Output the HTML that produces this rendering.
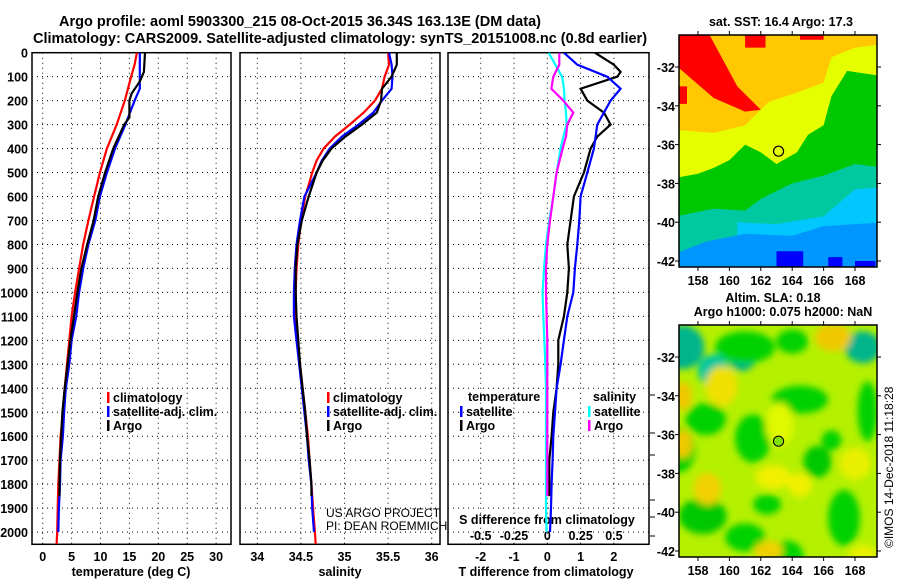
<!DOCTYPE html>
<html><head><meta charset="utf-8">
<style>
html,body{margin:0;padding:0;background:#fff;}
body{width:900px;height:580px;overflow:hidden;font-family:"Liberation Sans",Arial,sans-serif;}
svg text{font-family:"Liberation Sans",Arial,sans-serif;font-weight:bold;fill:#000;}
</style></head>
<body>
<svg id="chart" width="900" height="580" viewBox="0 0 900 580" xmlns="http://www.w3.org/2000/svg">
<defs>
<clipPath id="c1"><rect x="32" y="52.7" width="199" height="491.6"/></clipPath>
<clipPath id="c2"><rect x="240" y="52.7" width="200" height="491.6"/></clipPath>
<clipPath id="c3"><rect x="448" y="52.7" width="201" height="491.6"/></clipPath>
<clipPath id="m1"><rect x="679" y="35" width="198" height="232"/></clipPath>
<clipPath id="m2"><rect x="679" y="325" width="198" height="232"/></clipPath>
<filter id="blur" x="-20%" y="-20%" width="140%" height="140%"><feGaussianBlur stdDeviation="3.5"/></filter>
</defs>
<text x="300" y="26" font-size="14.5" text-anchor="middle">Argo profile: aoml 5903300_215 08-Oct-2015 36.34S 163.13E (DM data)</text>
<text x="340" y="43" font-size="14.5" text-anchor="middle">Climatology: CARS2009. Satellite-adjusted climatology: synTS_20151008.nc (0.8d earlier)</text>
<g id="g1"></g>
<g id="g2"></g>
<g id="g3"></g>
<g id="gm1"></g>
<g id="gm2"></g>
<text transform="translate(893,548) rotate(-90)" font-size="12" style="font-weight:normal">©IMOS 14-Dec-2018 11:18:28</text>
</svg>
<script>
// ---- data ----
const depthTicks = [0,100,200,300,400,500,600,700,800,900,1000,1100,1200,1300,1400,1500,1600,1700,1800,1900,2000];
const tempTicks = [0,5,10,15,20,25,30];
const salTicks = [34,34.5,35,35.5,36];
const salTickLabels = ['34','34.5','35','35.5','36'];
const tdiffTicks = [-2,-1,0,1,2];
const sdiffTicks = [-0.5,-0.25,0,0.25,0.5];
const sdiffTickLabels = ['-0.5','-0.25','0','0.25','0.5'];

const climDepth = [0,50,100,200,300,400,500,600,700,800,900,1000,1100,1200,1300,1400,1500,1600,1700,1800,1900,2000,2050];
const climTemp = [16.3,15.9,15.3,14.2,12.8,11.1,9.9,8.9,7.9,7.0,6.3,5.6,5.0,4.6,4.2,3.8,3.5,3.1,2.9,2.7,2.6,2.5,2.4];
const satDepth = [0,100,150,200,250,300,350,400,500,600,700,800,900,1000,1100,1200,1300,1400,1500,1600,1700,1800,1900,2000];
const satTemp = [16.8,16.8,16.8,15.9,15.1,14.3,13.4,12.5,11.1,9.9,9.1,7.9,7.0,6.3,5.8,5.0,4.6,4.0,3.7,3.5,3.1,3.0,2.8,2.7];
const argoDepth = [0,80,120,170,200,270,300,400,500,600,700,800,900,1000,1100,1200,1300,1400,1500,1600,1700,1800,1850];
const argoTemp = [17.7,17.5,16.8,15.4,15.0,15.0,14.1,12.2,10.8,9.6,8.8,7.7,6.7,6.0,5.4,4.8,4.3,3.8,3.4,3.2,3.0,2.9,2.9];

const salDepth = [0,50,100,150,200,250,300,350,400,450,500,600,700,800,900,1000,1100,1200,1300,1400,1500,1600,1700,1800,1900,2000,2050];
const climSal = [35.50,35.51,35.46,35.43,35.35,35.22,35.06,34.89,34.76,34.68,34.63,34.55,34.50,34.47,34.45,34.44,34.44,34.46,34.49,34.52,34.55,34.58,34.60,34.62,34.64,34.66,34.67];
const satSal = [35.51,35.54,35.55,35.54,35.43,35.33,35.16,34.97,34.83,34.74,34.68,34.54,34.49,34.45,34.43,34.42,34.42,34.45,34.48,34.51,34.54,34.57,34.59,34.62,34.63,34.65];
const argoSalDepth = [0,50,100,150,200,250,300,350,400,450,500,600,700,800,900,1000,1100,1200,1300,1400,1500,1600,1700,1800,1850];
const argoSal = [35.60,35.60,35.54,35.43,35.42,35.37,35.20,35.01,34.85,34.75,34.68,34.59,34.51,34.46,34.44,34.44,34.45,34.47,34.49,34.52,34.55,34.57,34.60,34.62,34.62];

const tdArgoDepth = [0,50,80,100,150,200,250,300,350,400,500,600,700,800,900,1000,1100,1200,1300,1400,1500,1600,1700,1800,1850];
const tdArgo = [1.43,2.0,2.2,2.1,1.0,1.2,1.7,1.9,1.5,1.3,1.1,0.8,0.7,0.6,0.65,0.6,0.5,0.33,0.33,0.28,0.18,0.13,0.06,0.06,0.06];
const tdSatDepth = [0,50,100,150,200,250,300,400,500,600,700,800,900,1000,1100,1200,1300,1400,1500,1600,1700,1800,1900,2000];
const tdSat = [0.5,0.9,1.8,2.2,1.9,1.7,1.5,1.4,1.2,1.0,0.96,0.9,0.83,0.78,0.6,0.5,0.4,0.28,0.23,0.18,0.16,0.13,0.11,0.08];
const sdSatDepth = [0,50,100,150,200,250,300,350,400,500,600,700,800,900,1000,1100,1200,1300,1400,1500,1600,1700,1800,1900,2000];
const sdSat = [0.01,0.06,0.11,0.125,0.13,0.14,0.145,0.12,0.1,0.07,0.045,0.015,-0.01,-0.025,-0.035,-0.03,-0.022,-0.015,-0.01,-0.01,-0.01,-0.01,-0.01,-0.01,-0.005];
const sdArgoDepth = [0,50,100,150,200,250,300,350,400,500,600,700,800,900,1000,1100,1200,1300,1400,1500,1600,1700,1800,1850];
const sdArgo = [0.09,0.09,0.045,0.03,0.12,0.195,0.15,0.14,0.115,0.07,0.045,0.02,0,-0.01,-0.01,-0.005,0,0,0,0,0,0,0,0];

// ---- axes ----
const NS='http://www.w3.org/2000/svg';
const yD = d => 52.7 + d*0.2397;
const xT = t => 42.7 + t*5.78;
const xS = s => 257.3 + (s-34)*87.2;
const xTD = v => 547.3 + v*33.3;
const xSD = v => 547.3 + v*133.3;
function mk(tag, attrs, parent){const e=document.createElementNS(NS,tag);for(const k in attrs)e.setAttribute(k,attrs[k]);parent.appendChild(e);return e;}
function txt(parent,x,y,s,size,anchor){const t=mk('text',{x:x,y:y,'font-size':size,'text-anchor':anchor||'middle'},parent);t.textContent=s;return t;}

function frame(g,x0,x1,clip,xs,xfun){
  for(const d of depthTicks){
    const l=mk('line',{x1:x0,x2:x1,y1:yD(d),y2:yD(d),stroke:'#000','stroke-width':1,'stroke-dasharray':'1,4'},g);
    
    
  }
  for(const v of xs){
    const l=mk('line',{x1:xfun(v),x2:xfun(v),y1:52.7,y2:544.3,stroke:'#000','stroke-width':1,'stroke-dasharray':'1,4'},g);
    
    
  }
  const r=mk('rect',{x:x0,y:52.7,width:x1-x0,height:491.6,fill:'none',stroke:'#000','stroke-width':1.5},g);
  
  
}
function line(g,xs,ds,xf,color,clip,name,w){
  const pts=xs.map((v,i)=>xf(v).toFixed(1)+','+yD(ds[i]).toFixed(1)).join(' ');
  const p=mk('polyline',{points:pts,fill:'none',stroke:color,'stroke-width':w||2.2,'clip-path':'url(#'+clip+')'},g);
  
  
}
function legend(g,x,y,color,label,name){
  const b=mk('rect',{x:x,y:y-10,width:2.5,height:11,fill:color},g);
  
  
  const t=txt(g,x+6,y,label,12.5,'start');
  
  
}

// panel 1
const g1=document.getElementById('g1');
frame(g1,32,231,'c1',tempTicks,xT);
for(const d of depthTicks){const t=txt(g1,28,yD(d)+5,String(d),12.5,'end');}
for(const v of tempTicks){const t=txt(g1,xT(v),561,String(v),12.5);}
{const t=txt(g1,131,576,'temperature (deg C)',12.5);}
line(g1,climTemp,climDepth,xT,'#ff0000','c1','climatology-temperature-line');
line(g1,satTemp,satDepth,xT,'#0000ff','c1','satellite-temperature-line');
line(g1,argoTemp,argoDepth,xT,'#000000','c1','argo-temperature-line');
legend(g1,107,402,'#ff0000','climatology','legend-climatology');
legend(g1,107,416,'#0000ff','satellite-adj. clim.','legend-satellite');
legend(g1,107,430,'#000000','Argo','legend-argo');

// panel 2
const g2=document.getElementById('g2');
frame(g2,240,440,'c2',salTicks,xS);
salTicks.forEach((v,i)=>{const t=txt(g2,xS(v),561,salTickLabels[i],12.5);});
{const t=txt(g2,340,576,'salinity',12.5);}
line(g2,climSal,salDepth,xS,'#ff0000','c2','climatology-salinity-line');
line(g2,satSal,salDepth.slice(0,satSal.length),xS,'#0000ff','c2','satellite-salinity-line');
line(g2,argoSal,argoSalDepth,xS,'#000000','c2','argo-salinity-line');
legend(g2,327,402,'#ff0000','climatology','legend-climatology');
legend(g2,327,416,'#0000ff','satellite-adj. clim.','legend-satellite');
legend(g2,327,430,'#000000','Argo','legend-argo');
{const t=txt(g2,326,517,'US ARGO PROJECT',12,'start');t.setAttribute('style','font-weight:normal');}
{const t=txt(g2,326,530,'PI: DEAN ROEMMICH',12,'start');t.setAttribute('style','font-weight:normal');}

// panel 3
const g3=document.getElementById('g3');
frame(g3,448,649,'c3',tdiffTicks,xTD);
for(const v of tdiffTicks){const t=txt(g3,xTD(v),561,String(v),12.5);}
{const t=txt(g3,546,576,'T difference from climatology',12.5);}
sdiffTicks.forEach((v,i)=>{const t=txt(g3,xSD(v),540,sdiffTickLabels[i],12.5);});
{const t=txt(g3,547,524,'S difference from climatology',12.5);}
line(g3,tdArgo,tdArgoDepth,xTD,'#000000','c3','argo-tdiff-line');
line(g3,tdSat,tdSatDepth,xTD,'#0000ff','c3','satellite-tdiff-line');
line(g3,sdSat,sdSatDepth,xSD,'#00ffff','c3','satellite-sdiff-line');
line(g3,sdArgo,sdArgoDepth,xSD,'#ff00ff','c3','argo-sdiff-line');
{const t=txt(g3,468,401,'temperature',12.5,'start');}
{const t=txt(g3,593,401,'salinity',12.5,'start');}
legend(g3,460,416,'#0000ff','satellite','legend-t-satellite');
legend(g3,460,430,'#000000','Argo','legend-t-argo');
legend(g3,588,416,'#00ffff','satellite','legend-s-satellite');
legend(g3,588,430,'#ff00ff','Argo','legend-s-argo');
for(const y of [395,433,455,500,517,536]){mk('line',{x1:650,x2:655,y1:y,y2:y,stroke:'#000'},g3);}

// ---- maps ----
const lonTicks=[158,160,162,164,166,168];
const latTicks=[-32,-34,-36,-38,-40,-42];
const floatLon=163.13, floatLat=-36.34;
const mx = lon => 698 + (lon-158)*15.7;
function mapFrame(g,top,clip){
  const my = lat => top + 32 + (-32-lat)*19.4;
  for(const v of lonTicks){mk('line',{x1:mx(v),x2:mx(v),y1:top+232,y2:top+236,stroke:'#000'},g);mk('line',{x1:mx(v),x2:mx(v),y1:top-4,y2:top,stroke:'#000'},g);
    const t=txt(g,mx(v),top+250,String(v),12.5);}
  for(const v of latTicks){mk('line',{x1:675,x2:679,y1:my(v),y2:my(v),stroke:'#000'},g);mk('line',{x1:877,x2:881,y1:my(v),y2:my(v),stroke:'#000'},g);
    const t=txt(g,675,my(v)+5,String(v),12.5,'end');}
  const c=mk('circle',{cx:mx(floatLon),cy:my(floatLat),r:5,fill:'none',stroke:'#000','stroke-width':1.2},g);
  
  
  const r=mk('rect',{x:679,y:top,width:198,height:232,fill:'none',stroke:'#000','stroke-width':1.5},g);
  
  
  return my;
}
function poly(g,pts,top,fill,clip,name){
  const my = lat => top + 32 + (-32-lat)*19.4;
  const p=mk('polygon',{points:pts.map(q=>mx(q[0]).toFixed(1)+','+my(q[1]).toFixed(1)).join(' '),fill:fill,'clip-path':'url(#'+clip+')'},g);
  
  
}
const gm1=document.getElementById('gm1');
mk('rect',{x:679,y:35,width:198,height:232,fill:'#ffc800'},gm1);
poly(gm1,[[156,-30],[158.5,-30],[160.5,-33],[162,-34.2],[161,-34.3],[159,-33.6],[156,-31.5]],35,'#ff0000','m1','sst-warm-red-band');
poly(gm1,[[161,-30],[162.3,-30],[162.3,-31],[161,-31]],35,'#ff0000','m1','sst-red-patch');
poly(gm1,[[164.5,-30],[166,-30],[166,-30.6],[164.5,-30.6]],35,'#ff0000','m1','sst-red-patch');
poly(gm1,[[156,-33],[157.3,-33],[157.3,-33.9],[156,-33.9]],35,'#ff0000','m1','sst-red-patch');
poly(gm1,[[156,-35.2],[159,-35.4],[161,-35],[162.5,-33.8],[164,-33.4],[166,-32.8],[166.5,-31.5],[168,-31],[170,-30.8],[170,-44],[156,-44]],35,'#e6ff00','m1','sst-yellow-region');
poly(gm1,[[156,-37.8],[158,-37.5],[159,-37.2],[160,-36.8],[161,-36],[162,-36.4],[163,-37],[164.3,-36.4],[165,-35.5],[166,-35],[166.5,-33.5],[167.5,-32.2],[170,-32.5],[170,-44],[156,-44]],35,'#00c800','m1','sst-green-region');
poly(gm1,[[156,-39.8],[159,-39.3],[161,-39.4],[162,-38.8],[164,-38],[166,-37.6],[168,-37],[170,-37.2],[170,-44],[156,-44]],35,'#00c8a0','m1','sst-teal-region');
poly(gm1,[[160.5,-40],[163,-40.1],[166,-39.7],[168,-38.3],[170,-38.2],[170,-44],[160.5,-44]],35,'#00c8ff','m1','sst-cyan-region');
poly(gm1,[[156,-41.8],[158.5,-41],[161,-40.6],[164,-40.7],[166,-40.2],[170,-40],[170,-44],[156,-44]],35,'#0096ff','m1','sst-blue-region');
poly(gm1,[[163,-41.5],[164.7,-41.5],[164.7,-43],[163,-43]],35,'#0000ff','m1','sst-deep-blue-patch');
poly(gm1,[[166.3,-41.8],[167.2,-41.8],[167.2,-43],[166.3,-43]],35,'#0000ff','m1','sst-deep-blue-patch');
poly(gm1,[[168,-42],[169.3,-42],[169.3,-43],[168,-43]],35,'#0000ff','m1','sst-deep-blue-patch');
mapFrame(gm1,35,'m1');
{const t=txt(gm1,781,26,'sat. SST: 16.4 Argo: 17.3',12.5);}

const gm2=document.getElementById('gm2');
mk('rect',{x:679,y:325,width:198,height:232,fill:'#b4f000'},gm2);
const my2 = lat => 357 + (-32-lat)*19.4;
const blobs=[
 [157,-31.5,22,22,'#00b48c'],[159,-32.7,16,16,'#00c8a0'],[160.8,-32,14,14,'#00b48c'],[168.5,-31.5,18,16,'#00b48c'],
 [161,-31.5,30,16,'#00d200'],[164,-31.2,16,12,'#00d200'],[158.5,-35.2,20,16,'#00d200'],[161.5,-36.2,18,24,'#00d200'],
 [164.5,-34.2,28,14,'#00d200'],[165.6,-37.4,14,16,'#00c800'],[158.3,-40.2,24,18,'#00c800'],[161,-41.3,20,14,'#00d200'],
 [163.7,-42.3,16,16,'#00d200'],[167.3,-40.3,16,28,'#00d200'],[168.8,-34.8,10,30,'#00d200'],[162.4,-39.6,14,10,'#00d200'],
 [156.8,-36.8,16,22,'#00d200'],[166.5,-36.3,10,10,'#00d200'],
 [159.5,-33.5,16,20,'#f0e000'],[166.6,-31,18,14,'#f0c800'],[157,-34,10,14,'#f0c800'],[157,-36.5,10,14,'#f0c800'],
 [158.6,-38.8,14,16,'#f0d000'],[162.8,-38.2,18,12,'#f0f000'],[164.5,-38.6,12,12,'#f0f000'],[162.5,-42,14,10,'#f0d000'],
 [168,-37.5,16,16,'#e8f000'],[163.2,-35.5,14,22,'#e0f800'],[168.5,-42.2,14,10,'#e8f000']];
const bg=mk('g',{'clip-path':'url(#m2)'},gm2);
const bg2=mk('g',{filter:'url(#blur)'},bg);
for(const b of blobs){const e=mk('ellipse',{cx:mx(b[0]),cy:my2(b[1]),rx:b[2],ry:b[3],fill:b[4]},bg2);}
mapFrame(gm2,325,'m2');
{const c=mk('circle',{cx:mx(floatLon),cy:my2(floatLat),r:4.5,fill:'#80e000'},gm2);}
{const t=txt(gm2,773,302,'Altim. SLA: 0.18',12.5);}
{const t=txt(gm2,783,316,'Argo h1000: 0.075 h2000: NaN',12.5);}
</script>
</body></html>
